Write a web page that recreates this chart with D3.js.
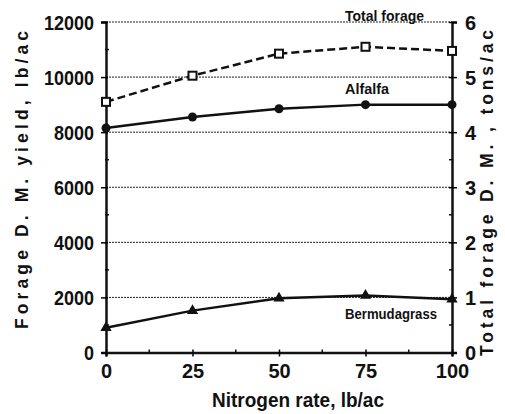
<!DOCTYPE html>
<html><head><meta charset="utf-8">
<script src="https://cdn.jsdelivr.net/npm/d3@7/dist/d3.min.js"></script>
<style>
body{margin:0;background:#fff;}
svg text{font-family:"Liberation Sans",Arial,sans-serif;font-weight:bold;fill:#111;}
</style></head>
<body><svg id="c" width="505" height="414"></svg>
<script>
const nitrogen = [0, 25, 50, 75, 100];
const totalForage = [9100, 10050, 10850, 11100, 10950];
const alfalfa = [8150, 8550, 8850, 9000, 9000];
const bermudagrass = [900, 1520, 1970, 2070, 1930];
const leftTicks = [0, 2000, 4000, 6000, 8000, 10000, 12000];
const rightTicks = [0, 1, 2, 3, 4, 5, 6];
const xTicks = [0, 25, 50, 75, 100];

const svg = d3.select("#c");
const L = 106, R = 452, T = 22, B = 352.5;
const x = d3.scaleLinear().domain([0, 100]).range([L, R]);
const y = d3.scaleLinear().domain([0, 12000]).range([B, T]);
const y2 = d3.scaleLinear().domain([0, 6]).range([B, T]);

// gridlines
svg.append("g").selectAll("line").data(leftTicks.filter(d => d > 0)).join("line")
  .attr("x1", L).attr("x2", R).attr("y1", d => y(d)).attr("y2", d => y(d))
  .attr("stroke", "#222").attr("stroke-width", 1).attr("stroke-dasharray", "2,1");

// left axis
const gl = svg.append("g").attr("transform", `translate(${L},0)`)
  .call(d3.axisLeft(y).tickValues(leftTicks).tickSize(5).tickPadding(7).tickFormat(d3.format("d")));
gl.select(".domain").attr("stroke", "#111").attr("stroke-width", 2.5);
gl.selectAll(".tick line").attr("stroke-width", 1.5).attr("x2", -5).attr("x1", 2);
gl.selectAll("text").style("font-size", "20px").attr("dy", "0.36em")
  .attr("textLength", d => String(d).length * 10).attr("lengthAdjust", "spacingAndGlyphs");
svg.append("g").selectAll("line").data(d3.range(1000, 12000, 2000)).join("line")
  .attr("x1", L - 1).attr("x2", L + 3).attr("y1", d => y(d)).attr("y2", d => y(d))
  .attr("stroke", "#111").attr("stroke-width", 1.5);

// right axis
const gr = svg.append("g").attr("transform", `translate(${R},0)`)
  .call(d3.axisRight(y2).tickValues(rightTicks).tickSize(5).tickPadding(8).tickFormat(d3.format("d")));
gr.select(".domain").attr("stroke", "#111").attr("stroke-width", 2.5);
gr.selectAll(".tick line").attr("stroke-width", 1.5).attr("x1", -3);
gr.selectAll("text").style("font-size", "20px").attr("dy", "0.36em");
svg.append("g").selectAll("line").data(d3.range(0.5, 6, 1)).join("line")
  .attr("x1", R - 3).attr("x2", R + 1).attr("y1", d => y2(d)).attr("y2", d => y2(d))
  .attr("stroke", "#111").attr("stroke-width", 1.5);

// bottom axis
const gb = svg.append("g").attr("transform", `translate(0,${B})`)
  .call(d3.axisBottom(x).tickValues(xTicks).tickSize(4).tickPadding(7));
gb.select(".domain").attr("stroke", "#111").attr("stroke-width", 2.5);
gb.selectAll(".tick line").attr("stroke-width", 1.5).attr("y1", -3);
gb.selectAll("text").style("font-size", "20px");
svg.append("g").selectAll("line").data(d3.range(12.5, 100, 25)).join("line")
  .attr("x1", d => x(d)).attr("x2", d => x(d)).attr("y1", B - 3).attr("y2", B + 1)
  .attr("stroke", "#111").attr("stroke-width", 1.5);

// series
const line = d3.line().x((d, i) => x(nitrogen[i])).y(d => y(d));
svg.append("path").datum(totalForage).attr("d", line).attr("fill", "none")
  .attr("stroke", "#111").attr("stroke-width", 2.5).attr("stroke-dasharray", "8,4");
svg.append("path").datum(alfalfa).attr("d", line).attr("fill", "none")
  .attr("stroke", "#111").attr("stroke-width", 2.5);
svg.append("path").datum(bermudagrass).attr("d", line).attr("fill", "none")
  .attr("stroke", "#111").attr("stroke-width", 2.5);

svg.append("g").selectAll("rect").data(totalForage).join("rect")
  .attr("x", (d, i) => x(nitrogen[i]) - 4).attr("y", d => y(d) - 4)
  .attr("width", 8).attr("height", 8).attr("fill", "#fff").attr("stroke", "#111").attr("stroke-width", 2);
svg.append("g").selectAll("circle").data(alfalfa).join("circle")
  .attr("cx", (d, i) => x(nitrogen[i])).attr("cy", d => y(d)).attr("r", 4.5).attr("fill", "#111");
const tri = d3.symbol().type(d3.symbolTriangle).size(55);
svg.append("g").selectAll("path").data(bermudagrass).join("path")
  .attr("d", tri).attr("transform", (d, i) => `translate(${x(nitrogen[i])},${y(d)})`).attr("fill", "#111");

// annotations
function label(t, xx, yy, w) {
  svg.append("text").attr("x", xx).attr("y", yy).style("font-size", "15.5px")
    .attr("textLength", w).attr("lengthAdjust", "spacingAndGlyphs").text(t);
}
label("Total forage", 345, 21, 79);
label("Alfalfa", 345, 94, 44);
label("Bermudagrass", 345, 319, 92);

// axis titles
svg.append("text").attr("transform", "translate(28,180) rotate(-90)").attr("text-anchor", "middle")
  .style("font-size", "17.5px").attr("textLength", 298).attr("lengthAdjust", "spacing")
  .text("Forage D. M.  yield, lb/ac");
svg.append("text").attr("transform", "translate(493,193) rotate(-90)").attr("text-anchor", "middle")
  .style("font-size", "17.5px").attr("textLength", 326).attr("lengthAdjust", "spacing")
  .text("Total forage D. M. , tons/ac");
svg.append("text").attr("x", 212).attr("y", 407)
  .style("font-size", "20px").attr("textLength", 172).attr("lengthAdjust", "spacingAndGlyphs")
  .text("Nitrogen rate, lb/ac");
</script></body></html>
